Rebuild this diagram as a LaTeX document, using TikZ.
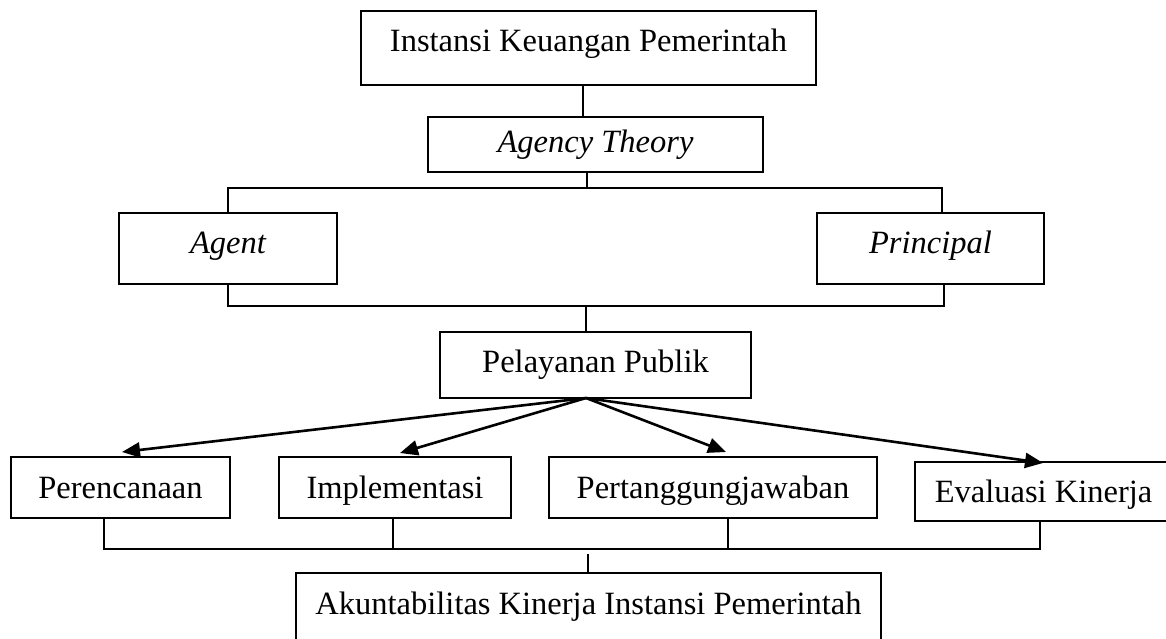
\documentclass[tikz,border=0pt]{standalone}
\usepackage{fontspec}
\setmainfont{Liberation Serif}
\usetikzlibrary{arrows.meta}
\begin{document}
\begin{tikzpicture}[x=1pt,y=-1pt,
  box/.style={draw, line width=2.4pt, inner sep=0pt, text height=21.5pt, text depth=0pt,
    font=\fontsize{32.5pt}{38pt}\selectfont},
  conn/.style={line width=2.4pt},
  arr/.style={line width=2.6pt, -{Triangle[length=18pt,width=15pt]}}]
\useasboundingbox (0,0) rectangle (1166,638);
\clip (0,0) rectangle (1166,638);
% boxes
\node[box, minimum width=455pt, minimum height=74pt, text depth=14pt] (inst) at (588.5,48) {Instansi Keuangan Pemerintah};
\node[box, minimum width=335pt, minimum height=55pt, text depth=5pt] (agency) at (595.5,144.5) {\itshape Agency Theory};
\node[box, minimum width=218pt, minimum height=71pt, text depth=12pt] (agent) at (228,248.5) {\itshape Agent};
\node[box, minimum width=227pt, minimum height=71pt, text depth=11pt] (principal) at (930.5,248.5) {\itshape Principal};
\node[box, minimum width=311pt, minimum height=66pt, text depth=6pt] (pel) at (595.5,365) {Pelayanan Publik};
\node[box, minimum width=219pt, minimum height=61pt] (pere) at (120.5,487.5) {Perencanaan};
\node[box, minimum width=232pt, minimum height=61pt] (impl) at (395,487.5) {Implementasi};
\node[box, minimum width=328pt, minimum height=61pt] (pert) at (713,487.5) {Pertanggungjawaban};
\node[box, minimum width=257pt, minimum height=59pt] (eval) at (1043.5,491.5) {Evaluasi Kinerja};
\node[box, minimum width=585pt, minimum height=87pt, text depth=25pt] (akun) at (588.5,616.5) {Akuntabilitas Kinerja Instansi Pemerintah};
% junction coordinates
\coordinate (x0) at (583,0);
\coordinate (b1) at (587,188);
\coordinate (xpr1) at (942,0);
\coordinate (b2) at (586,306);
\coordinate (xpr2) at (944,0);
\coordinate (src) at (586,398);
\coordinate (t1) at (122,452);
\coordinate (t2) at (400,453);
\coordinate (t3) at (726,452);
\coordinate (t4) at (1043,463);
\coordinate (ya) at (0,549);
\coordinate (xa) at (104,0);
\coordinate (xb) at (393,0);
\coordinate (xc) at (728,0);
\coordinate (xd) at (1040,0);
\coordinate (gap) at (588,554);
% connectors
\draw[conn] (inst.south -| x0) -- (agency.north -| x0);
\draw[conn] (agency.south -| b1) -- (b1);
\draw[conn] (agent.north) -- (agent.north |- b1) -- (b1 -| xpr1) -- (principal.north -| xpr1);
\draw[conn] (agent.south) -- (agent.south |- b2) -- (b2 -| xpr2) -- (principal.south -| xpr2);
\draw[conn] (b2) -- (pel.north -| b2);
\draw[arr] (src) -- (t1);
\draw[arr] (src) -- (t2);
\draw[arr] (src) -- (t3);
\draw[arr] (src) -- (t4);
\draw[conn] (pere.south -| xa) -- (xa |- ya) -- (xd |- ya) -- (eval.south -| xd);
\draw[conn] (impl.south -| xb) -- (xb |- ya);
\draw[conn] (pert.south -| xc) -- (xc |- ya);
\draw[conn] (gap) -- (akun.north -| gap);
\end{tikzpicture}
\end{document}
